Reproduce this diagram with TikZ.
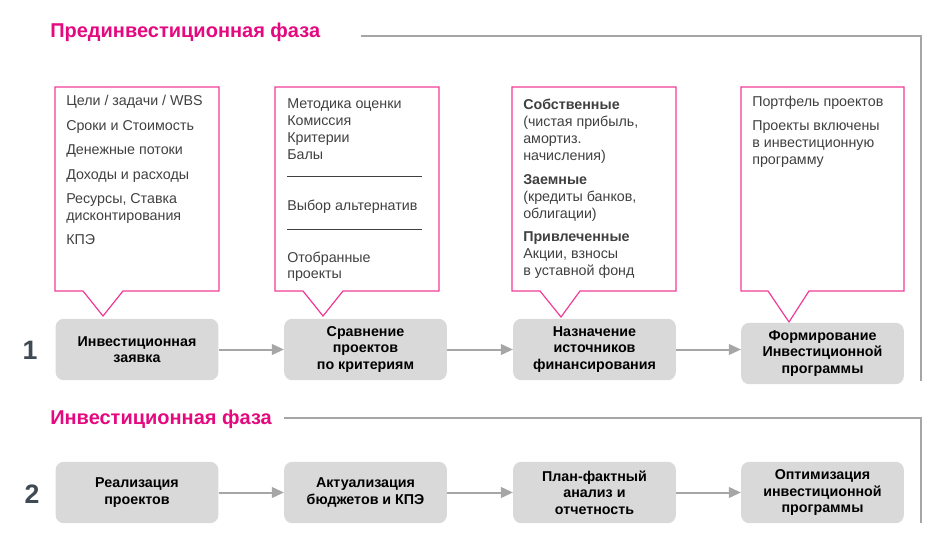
\documentclass[tikz,border=0pt]{standalone}
\usepackage{fontspec}
\setmainfont{Liberation Sans}
\usetikzlibrary{arrows.meta,positioning}

\definecolor{phasepink}{HTML}{E4097E}
\definecolor{notepink}{HTML}{F03C96}
\definecolor{stepfill}{HTML}{D9D9D9}
\definecolor{linegray}{HTML}{A6A6A6}
\definecolor{notetext}{HTML}{404040}
\definecolor{numcolor}{HTML}{3E4A54}

\tikzset{
    stepbox/.style={rectangle, rounded corners=6pt, fill=stepfill, minimum width=122pt, minimum height=46pt,
        inner sep=2pt, align=center, font=\fontsize{10.7}{12.4}\selectfont\bfseries},
    note/.style={draw=notepink, line width=0.9pt, line join=miter},
    notetxt/.style={anchor=base west, inner sep=0pt, align=left, text=notetext,
        font=\fontsize{10.7}{12.75}\selectfont},
    phase/.style={anchor=base west, inner sep=0pt, text=phasepink, font=\fontsize{15}{18}\selectfont\bfseries},
    bracket/.style={draw=linegray, line width=1.5pt},
    flow/.style={draw=linegray, line width=1.5pt, -{Triangle[length=9pt,width=8pt]}},
    stepnum/.style={anchor=base, inner sep=0pt, text=numcolor, font=\fontsize{20}{22}\selectfont\bfseries}
}

\begin{document}
\begin{tikzpicture}[x=0.75pt, y=-0.75pt]
    \useasboundingbox (0,0) rectangle (947,549);

    % phase titles and brackets
    \node[phase] (prephase) at (50,38) {Прединвестиционная фаза};
    \draw[bracket] (361,36) -- (921,36) -- (921,381);
    \node[phase] (invphase) at (50,424) {Инвестиционная фаза};
    \draw[bracket] (284,418) -- (921,418) -- (921,523);

    \node[stepnum] (num1) at (30,359) {1};
    \node[stepnum] (num2) at (32,503) {2};

    % callouts (text anchored on its last line)
    \draw[note] (55,87) -- (219,87) -- (219,291) -- (123,291) -- (103,316) -- (83,291) -- (55,291) -- cycle;
    \draw[note] (275,87) -- (439,87) -- (439,291) -- (343,291) -- (323,316) -- (303,291) -- (275,291) -- cycle;
    \draw[note] (512,87) -- (676,87) -- (676,291) -- (580,291) -- (561,317) -- (540,291) -- (512,291) -- cycle;
    \draw[note] (741,87) -- (904,87) -- (904,291) -- (809,291) -- (789,322) -- (768,291) -- (741,291) -- cycle;

    \node[notetxt] (goals) at (66,245) {Цели / задачи / WBS\\[5.6pt]Сроки и Стоимость\\[5.6pt]Денежные потоки\\[5.6pt]
        Доходы и расходы\\[5.6pt]Ресурсы, Ставка\\дисконтирования\\[5.6pt]КПЭ};
    \node[notetxt] (method) at (287,279) {Методика оценки\\Комиссия\\Критерии\\Балы\\[0.8pt]
        \rule{101pt}{0.5pt}\\[12pt]Выбор альтернатив\\[2.2pt]\rule{101pt}{0.5pt}\\[11.2pt]Отобранные\\проекты};
    \node[notetxt] (sources) at (523,276) {\textbf{Собственные}\\(чистая прибыль,\\амортиз.\\начисления)\\[5pt]
        \textbf{Заемные}\\(кредиты банков,\\облигации)\\[5pt]\textbf{Привлеченные}\\Акции, взносы\\в уставной фонд};
    \node[notetxt] (portfolio) at (752,165) {Портфель проектов\\[5.6pt]Проекты включены\\в инвестиционную\\программу};

    % pre-investment steps
    \node[stepbox] (apply) at (137,349.5) {Инвестиционная\\заявка};
    \node[stepbox] (compare) at (365.5,349.5) {Сравнение\\проектов\\по критериям};
    \node[stepbox] (finance) at (594.5,349.5) {Назначение\\источников\\финансирования};
    \node[stepbox] (program) at (822.5,353.5) {Формирование\\Инвестиционной\\программы};

    \draw[flow] (apply) -- (compare);
    \draw[flow] (compare) -- (finance);
    \draw[flow] (finance.east) -- (finance.east -| program.west);

    % investment steps
    \node[stepbox] (realize) at (137,492.5) {Реализация\\проектов};
    \node[stepbox] (update) at (365.5,492.5) {Актуализация\\бюджетов и КПЭ};
    \node[stepbox] (review) at (594.5,492.5) {План-фактный\\анализ и\\отчетность};
    \node[stepbox] (optimize) at (822.5,492.5) {Оптимизация\\инвестиционной\\программы};

    \draw[flow] (realize) -- (update);
    \draw[flow] (update) -- (review);
    \draw[flow] (review) -- (optimize);

\end{tikzpicture}
\end{document}
